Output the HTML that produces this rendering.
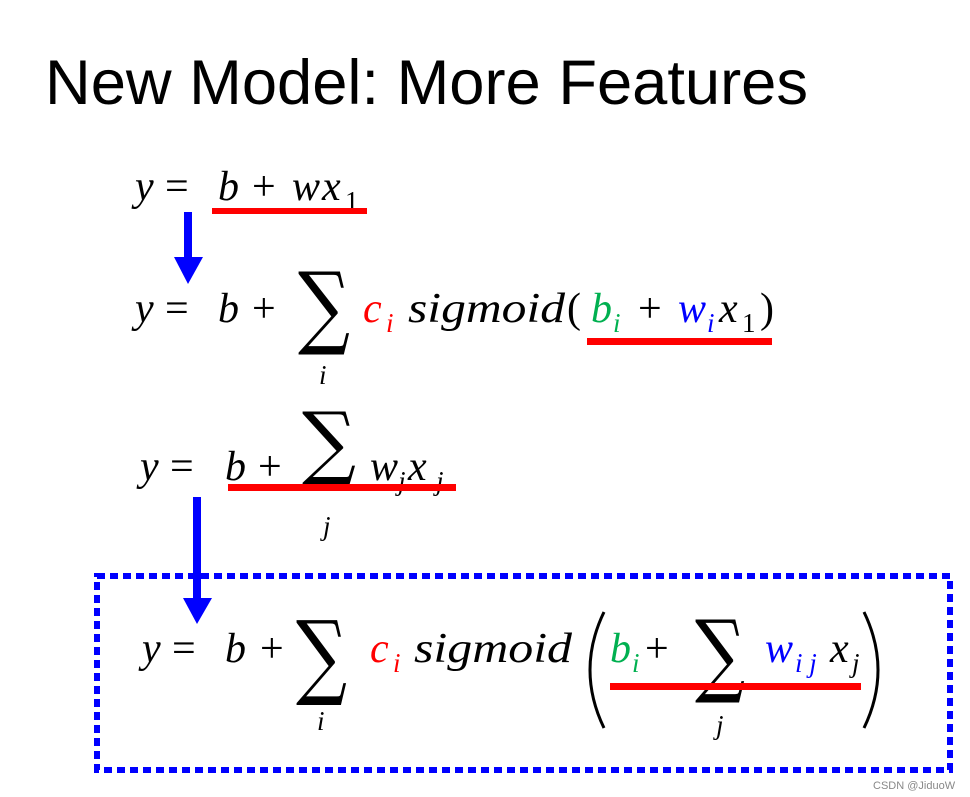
<!DOCTYPE html>
<html><head><meta charset="utf-8"><style>
html,body{margin:0;padding:0;background:#fff;}
svg{display:block}
text{font-family:"Liberation Serif","DejaVu Serif",serif;}
.i{font-style:italic;font-size:42px;}
.r{font-style:normal;font-size:42px;}
.sb{font-style:italic;font-size:27px;}
.sn{font-style:normal;font-size:27px;}
.s{font-family:"DejaVu Serif",serif;font-style:normal;}
</style></head><body>
<svg width="970" height="797" viewBox="0 0 970 797" xmlns="http://www.w3.org/2000/svg">
<text x="45" y="104" font-family="Liberation Sans, DejaVu Sans, sans-serif" font-size="63" fill="#000" textLength="763" lengthAdjust="spacingAndGlyphs" style="font-family:'Liberation Sans',sans-serif">New Model: More Features</text>

<!-- line 1 -->
<text x="135" y="200" class="i">y</text><text x="165" y="200" class="r">=</text>
<text x="218" y="200" class="i">b</text><text x="252" y="200" class="r">+</text>
<text x="292" y="200" class="i">w</text><text x="322" y="200" class="i">x</text><text x="345" y="210" class="sn">1</text>
<rect x="212" y="208" width="155" height="6" fill="#f00"/>
<rect x="184" y="212" width="8" height="48" fill="#00f"/>
<polygon points="174,257 203,257 188,284" fill="#00f"/>

<!-- line 2 -->
<text x="135" y="322" class="i">y</text><text x="165" y="322" class="r">=</text>
<text x="218" y="322" class="i">b</text><text x="252" y="322" class="r">+</text>
<text x="298" y="337" class="s" font-size="91" textLength="52" lengthAdjust="spacingAndGlyphs">∑</text>
<text x="319" y="384" class="sb">i</text>
<text x="363" y="322" class="i" fill="#f00">c</text><text x="386" y="332" class="sb" fill="#f00">i</text>
<text x="408" y="322" class="i" textLength="157" lengthAdjust="spacingAndGlyphs">sigmoid</text>
<text x="567" y="322" class="r">(</text>
<text x="591" y="322" class="i" fill="#00b050">b</text><text x="613" y="332" class="sb" fill="#00b050">i</text>
<text x="638" y="322" class="r">+</text>
<text x="678" y="322" class="i" fill="#00f">w</text><text x="707" y="332" class="sb" fill="#00f">i</text>
<text x="719" y="322" class="i">x</text><text x="742" y="332" class="sn">1</text>
<text x="760" y="322" class="r">)</text>
<rect x="587" y="338" width="185" height="7" fill="#f00"/>

<!-- line 3 -->
<text x="140" y="480" class="i">y</text><text x="170" y="480" class="r">=</text>
<text x="225" y="480" class="i">b</text><text x="258" y="480" class="r">+</text>
<text x="302" y="469" class="s" font-size="80" textLength="54" lengthAdjust="spacingAndGlyphs">∑</text>
<text x="323" y="535" class="sb">j</text>
<text x="370" y="480" class="i" fill="#000">w</text><text x="398" y="490" class="sb">j</text>
<text x="408" y="480" class="i">x</text><text x="436" y="490" class="sb">j</text>
<rect x="228" y="484" width="228" height="7" fill="#f00"/>
<rect x="193" y="497" width="8" height="105" fill="#00f"/>
<polygon points="183,598 212,598 197,624" fill="#00f"/>

<!-- box -->
<rect x="97" y="576" width="853" height="194" fill="none" stroke="#00f" stroke-width="6" stroke-dasharray="8 5"/>

<!-- line 4 -->
<text x="142" y="662" class="i">y</text><text x="172" y="662" class="r">=</text>
<text x="225" y="662" class="i">b</text><text x="260" y="662" class="r">+</text>
<text x="296" y="687" class="s" font-size="93" textLength="51" lengthAdjust="spacingAndGlyphs">∑</text>
<text x="317" y="730" class="sb">i</text>
<text x="370" y="662" class="i" fill="#f00">c</text><text x="393" y="672" class="sb" fill="#f00">i</text>
<text x="414" y="662" class="i" textLength="158" lengthAdjust="spacingAndGlyphs">sigmoid</text>
<path d="M604,612 Q576,670 604,728" fill="none" stroke="#000" stroke-width="3"/>
<text x="610" y="662" class="i" fill="#00b050">b</text><text x="632" y="672" class="sb" fill="#00b050">i</text>
<text x="645" y="662" class="r">+</text>
<text x="695" y="685" class="s" font-size="91" textLength="50" lengthAdjust="spacingAndGlyphs">∑</text>
<text x="716" y="734" class="sb">j</text>
<text x="765" y="662" class="i" fill="#00f">w</text><text x="795" y="672" class="sb" fill="#00f">i j</text>
<text x="830" y="662" class="i">x</text><text x="852" y="672" class="sb">j</text>
<path d="M864,612 Q892,670 864,728" fill="none" stroke="#000" stroke-width="3"/>
<rect x="610" y="683" width="251" height="7" fill="#f00"/>

<text x="873" y="789" style="font-family:'Liberation Sans',sans-serif" font-size="11" fill="#888">CSDN @JiduoW</text>
</svg>
</body></html>
